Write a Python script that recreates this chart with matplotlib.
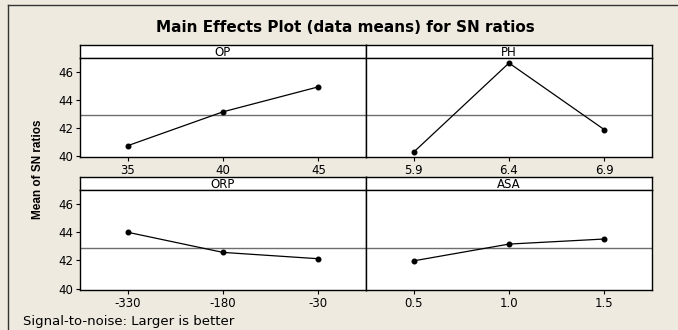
import matplotlib

matplotlib.use("Agg")
import matplotlib.pyplot as plt
import numpy as np

BG = "#EEEAE0"

FACTORS = ["OP", "PH", "ORP", "ASA"]
OP_LEVELS = [35, 40, 45]
OP_MEANS = [40.71, 43.14, 44.93]
PH_LEVELS = [5.9, 6.4, 6.9]
PH_MEANS = [40.25, 46.64, 41.86]
ORP_LEVELS = [-330, -180, -30]
ORP_MEANS = [44.00, 42.57, 42.12]
ASA_LEVELS = [0.5, 1.0, 1.5]
ASA_MEANS = [41.97, 43.16, 43.52]
LEVEL_LABELS = {
    "OP": ["35", "40", "45"],
    "PH": ["5.9", "6.4", "6.9"],
    "ORP": ["-330", "-180", "-30"],
    "ASA": ["0.5", "1.0", "1.5"],
}
Y_TICKS = [40, 42, 44, 46]

LEVELS = {"OP": OP_LEVELS, "PH": PH_LEVELS, "ORP": ORP_LEVELS, "ASA": ASA_LEVELS}
MEANS = {"OP": OP_MEANS, "PH": PH_MEANS, "ORP": ORP_MEANS, "ASA": ASA_MEANS}
GRAND_MEAN = float(np.mean(OP_MEANS + PH_MEANS + ORP_MEANS + ASA_MEANS))

W, H = 678, 330


def px_box(x0, y0, x1, y1):
    # pixel box (top-left origin) -> figure fraction rect
    return [x0 / W, (H - y1) / H, (x1 - x0) / W, (y1 - y0) / H]


def draw_panel(fig, name, x0, x1, y_strip, y_top, y_bot, show_y):
    lv = LEVELS[name]
    step = lv[1] - lv[0]
    strip = fig.add_axes(px_box(x0, y_strip, x1, y_top))
    strip.set_facecolor("white")
    strip.set_xticks([])
    strip.set_yticks([])
    for s in strip.spines.values():
        s.set_color("black")
        s.set_linewidth(1.0)
    strip.spines["bottom"].set_color("#7a7a7a")
    strip.text(0.5, 0.45, name, ha="center", va="center", fontsize=8.5, transform=strip.transAxes)

    ax = fig.add_axes(px_box(x0, y_top, x1, y_bot))
    ax.set_facecolor("white")
    ax.plot(lv, MEANS[name], color="black", linewidth=0.9, marker="o", markersize=3.3, zorder=3)
    ax.axhline(GRAND_MEAN, color="#6e6e6e", linewidth=1.0, zorder=2)
    ax.set_xlim(lv[0] - 0.5 * step, lv[-1] + 0.5 * step)
    ax.set_ylim(39.9, 47.0)
    ax.set_xticks(lv)
    ax.set_xticklabels(LEVEL_LABELS[name], fontsize=8.5)
    ax.tick_params(axis="x", direction="out", length=3, width=0.8, pad=2)
    if show_y:
        ax.set_yticks(Y_TICKS)
        ax.set_yticklabels([str(t) for t in Y_TICKS], fontsize=8.5)
        ax.tick_params(axis="y", direction="out", length=3, width=0.8, pad=2)
    else:
        ax.set_yticks([])
    for s in ax.spines.values():
        s.set_color("black")
        s.set_linewidth(1.0)
    return ax


def main():
    plt.rcParams.update({"font.family": "DejaVu Sans"})
    fig = plt.figure(figsize=(W / 100, H / 100), dpi=100, facecolor=BG)

    # outer frame (top and left edges visible)
    fig.add_artist(plt.Line2D([8 / W, 1.0], [1 - 5 / H, 1 - 5 / H], transform=fig.transFigure, color="#333333", linewidth=1.0))
    fig.add_artist(plt.Line2D([8 / W, 8 / W], [0.0, 1 - 5 / H], transform=fig.transFigure, color="#333333", linewidth=1.0))

    draw_panel(fig, "OP", 80, 366, 45, 58, 157, True)
    draw_panel(fig, "PH", 366, 652, 45, 58, 157, False)
    draw_panel(fig, "ORP", 80, 366, 177, 190, 290, True)
    draw_panel(fig, "ASA", 366, 652, 177, 190, 290, False)

    fig.text(345 / W, 1 - 28 / H, "Main Effects Plot (data means) for SN ratios",
             ha="center", va="center", fontsize=11, fontweight="bold")
    fig.text(38 / W, 1 - 169 / H, "Mean of SN ratios", rotation=90, ha="center", va="center",
             fontsize=8.5, fontweight="bold",
             family=["Liberation Sans Narrow", "Liberation Sans", "DejaVu Sans"])
    fig.text(23 / W, 1 - 321 / H, "Signal-to-noise: Larger is better", ha="left", va="center", fontsize=9.5)

    fig.savefig("out.png", dpi=100, facecolor=BG)
    plt.close(fig)


if __name__ == "__main__":
    main()
